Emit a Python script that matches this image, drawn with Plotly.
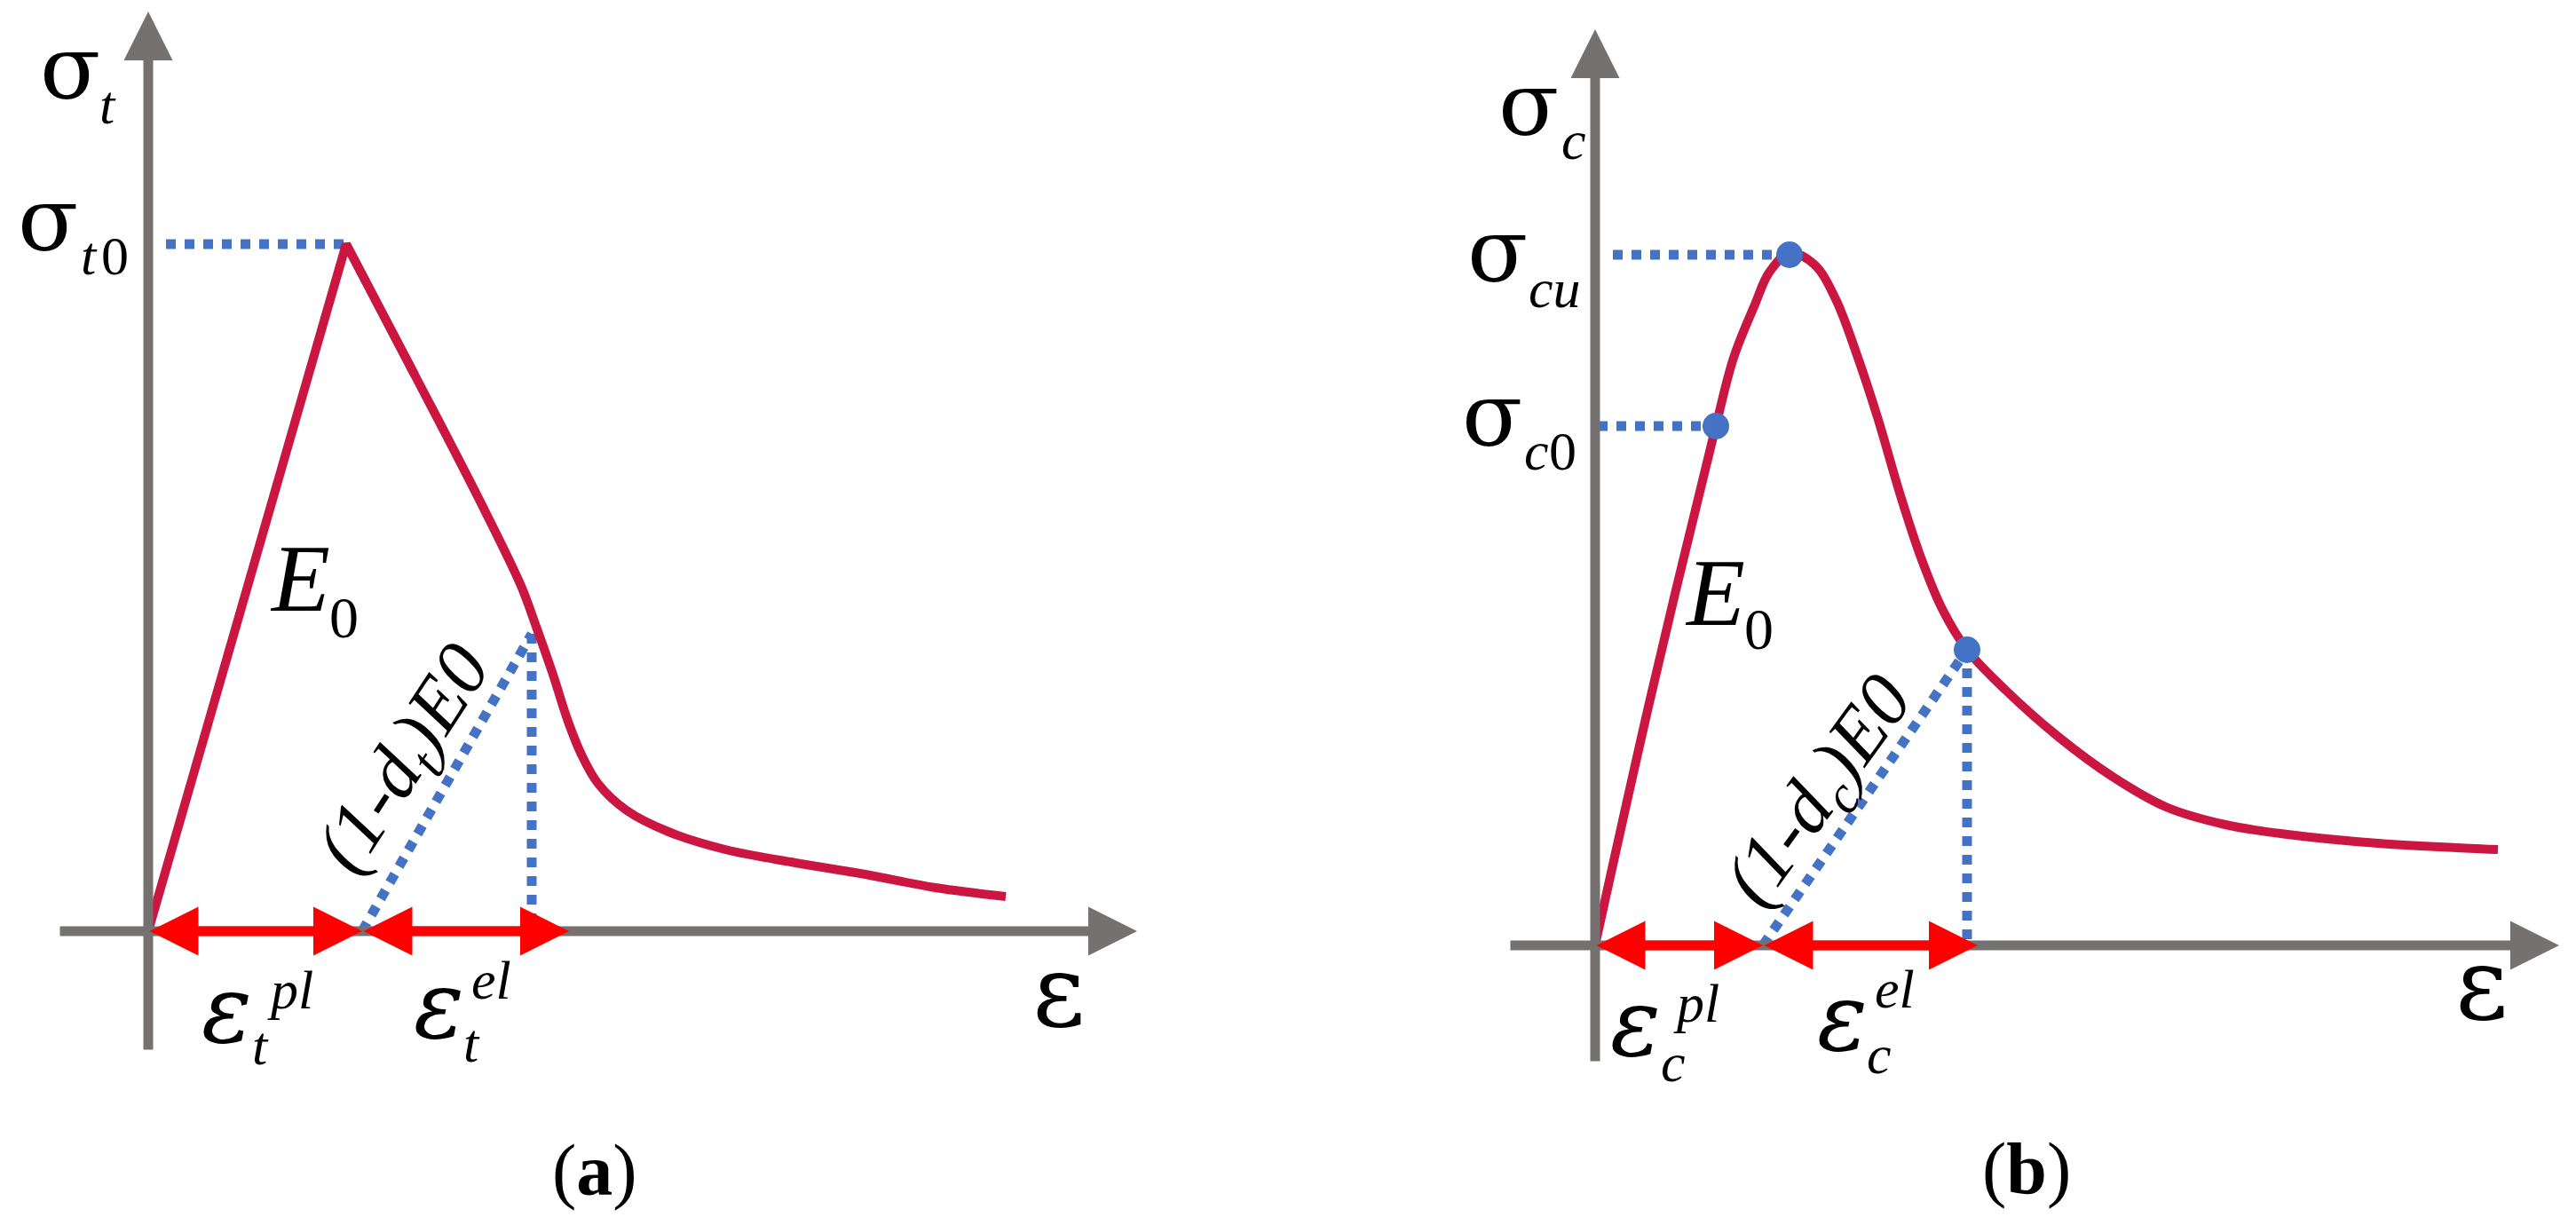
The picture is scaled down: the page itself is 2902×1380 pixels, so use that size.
import plotly.graph_objects as go

W, H = 2902, 1380
SERIF = "Liberation Serif, Times New Roman, serif"
GREEK = "DejaVu Serif, serif"
CURVE = "#CA1641"
AXIS = "#767171"
BLUE = "#4472C4"
ARROW = "#FF0000"

# ---------------- data (arbitrary strain / stress units) ----------------
# (a) tension
strain_t = [0.00, 2.23, 3.00, 3.73, 4.20, 4.36, 4.56, 4.72, 4.88, 5.07, 5.39, 5.86, 6.50, 7.29, 8.08, 8.87, 9.66]
stress_t = [0.00, 7.74, 6.27, 4.86, 3.89, 3.46, 2.89, 2.39, 1.99, 1.66, 1.36, 1.12, 0.92, 0.77, 0.64, 0.49, 0.39]
peak_idx_t = 1
unload_t = (4.32, 3.35)
eps_pl_t = 2.41
eps_el_tip_t = 4.74
axis_x_t = (-1.01, 11.14)
axis_y_t = (-1.35, 10.36)

# (b) compression
strain_c = [0.00, 0.64, 1.36, 1.56, 1.80, 1.96, 2.19, 2.47, 2.71, 2.95, 3.19, 3.43, 3.67, 3.91, 4.19,
            4.63, 5.23, 5.83, 6.43, 7.10, 7.80, 8.82, 10.17]
stress_c = [0.00, 2.86, 5.85, 6.62, 7.22, 7.58, 7.80, 7.67, 7.28, 6.65, 5.92, 5.10, 4.37, 3.79, 3.33,
            2.87, 2.34, 1.90, 1.56, 1.36, 1.25, 1.15, 1.08]
sigma_c0 = (1.36, 5.85)
sigma_cu = (2.19, 7.78)
unload_c = (4.19, 3.33)
eps_pl_c = 1.89
eps_el_tip_c = 4.31
axis_x_c = (-0.97, 10.86)
axis_y_c = (-1.32, 10.32)

fig = go.Figure()

def line(xs, ys, xa, ya, color, width, dash=None, shape="linear"):
    fig.add_trace(go.Scatter(x=xs, y=ys, xaxis=xa, yaxis=ya, mode="lines",
                             line=dict(color=color, width=width, dash=dash, shape=shape),
                             hoverinfo="skip", showlegend=False))

DOT = "11px,10px"

# ---- panel (a) ----
pk = peak_idx_t
line([0.20, strain_t[pk]], [stress_t[pk], stress_t[pk]], "x", "y", BLUE, 11, DOT)
line([eps_pl_t, unload_t[0]], [0.0, unload_t[1]], "x", "y", BLUE, 11, DOT)
line([unload_t[0], unload_t[0]], [unload_t[1], 0.0], "x", "y", BLUE, 11, DOT)
line(strain_t[:pk + 2], stress_t[:pk + 2], "x", "y", CURVE, 10)
line(strain_t[pk:], stress_t[pk:], "x", "y", CURVE, 10, shape="spline")

# ---- panel (b) ----
line([0.20, sigma_cu[0]], [sigma_cu[1], sigma_cu[1]], "x2", "y2", BLUE, 11, DOT)
line([0.03, sigma_c0[0]], [sigma_c0[1], sigma_c0[1]], "x2", "y2", BLUE, 11, DOT)
line([eps_pl_c, unload_c[0]], [0.0, unload_c[1]], "x2", "y2", BLUE, 11, DOT)
line([unload_c[0], unload_c[0]], [unload_c[1], 0.0], "x2", "y2", BLUE, 11, DOT)
line(strain_c, stress_c, "x2", "y2", CURVE, 10, shape="spline")
fig.add_trace(go.Scatter(x=[sigma_c0[0], sigma_cu[0], unload_c[0]],
                         y=[sigma_c0[1], sigma_cu[1], unload_c[1]],
                         xaxis="x2", yaxis="y2", mode="markers",
                         marker=dict(color=BLUE, size=30), hoverinfo="skip", showlegend=False))

ann = []

def arrow(xr, yr, x0, y0, x1, y1, color, both=False):
    d = dict(x=x1, y=y1, ax=x0, ay=y0, xref=xr, yref=yr, axref=xr, ayref=yr,
             text="", showarrow=True, arrowhead=2, arrowsize=1, arrowwidth=11,
             arrowcolor=color, font=dict(size=1), standoff=0, startstandoff=0)
    if both:
        d.update(arrowside="end+start", startarrowhead=2, startarrowsize=1)
    ann.append(d)

# axes
arrow("x", "y", axis_x_t[0], 0, axis_x_t[1], 0, AXIS)
arrow("x", "y", 0, axis_y_t[0], 0, axis_y_t[1], AXIS)
arrow("x2", "y2", axis_x_c[0], 0, axis_x_c[1], 0, AXIS)
arrow("x2", "y2", 0, axis_y_c[0], 0, axis_y_c[1], AXIS)
# strain arrows
arrow("x", "y", 0, 0, eps_pl_t, 0, ARROW, both=True)
arrow("x", "y", eps_pl_t, 0, eps_el_tip_t, 0, ARROW, both=True)
arrow("x2", "y2", 0, 0, eps_pl_c, 0, ARROW, both=True)
arrow("x2", "y2", eps_pl_c, 0, eps_el_tip_c, 0, ARROW, both=True)

def label(text, left, base, size, italic=False, anchor="left", family=SERIF):
    desc = 0.236 if family == GREEK else 0.216
    t = "<i>" + text + "</i>" if italic else text
    ann.append(dict(text=t, xref="paper", yref="paper", x=left / W,
                    y=1 - (base + desc * size) / H, xanchor=anchor, yanchor="bottom",
                    showarrow=False, borderpad=0,
                    font=dict(family=family, size=size, color="black")))

def greek(ch, left, base, size, italic=False):
    label(ch, left, base, size, italic=italic, family=GREEK)

SIG, SUB, EPS = 100, 62, 106
# (a)
greek("σ", 44, 112, SIG)
label("t", 111, 140, SUB, italic=True)
greek("σ", 19, 283, SIG)
label("t", 90, 310, SUB, italic=True)
label("0", 113, 310, SUB)
label("E", 303, 689, 108, italic=True)
label("0", 370, 719, 66)
greek("ε", 226, 1175, EPS, italic=True)
label("t", 283, 1200, SUB, italic=True)
label("pl", 300, 1137, SUB, italic=True)
greek("ε", 465, 1170, EPS, italic=True)
label("t", 521, 1197, SUB, italic=True)
label("el", 530, 1126, SUB, italic=True)
greek("ε", 1162, 1157, 115)
label("(<b>a</b>)", 670, 1347, 82, anchor="center")
ann.append(dict(text="<i>(1-d<sub>t</sub>)E0</i>", xref="paper", yref="paper",
                x=458 / W, y=1 - 857 / H, xanchor="center", yanchor="middle",
                textangle=-57, showarrow=False, borderpad=0,
                font=dict(family=SERIF, size=86, color="black")))
# (b)
greek("σ", 1687, 153, SIG)
label("c", 1758, 180, SUB, italic=True)
greek("σ", 1652, 318, SIG)
label("cu", 1721, 347, SUB, italic=True)
greek("σ", 1646, 503, SIG)
label("c", 1716, 530, SUB, italic=True)
label("0", 1744, 530, SUB)
label("E", 1897, 705, 108, italic=True)
label("0", 1964, 732, 66)
greek("ε", 1813, 1190, EPS, italic=True)
label("c", 1870, 1219, SUB, italic=True)
label("pl", 1884, 1152, SUB, italic=True)
greek("ε", 2046, 1184, EPS, italic=True)
label("c", 2102, 1210, SUB, italic=True)
label("el", 2111, 1136, SUB, italic=True)
greek("ε", 2765, 1149, 115)
label("(<b>b</b>)", 2283, 1345, 82, anchor="center")
ann.append(dict(text="<i>(1-d<sub>c</sub>)E0</i>", xref="paper", yref="paper",
                x=2052 / W, y=1 - 893 / H, xanchor="center", yanchor="middle",
                textangle=-54, showarrow=False, borderpad=0,
                font=dict(family=SERIF, size=86, color="black")))

hidden = dict(visible=False, showgrid=False, zeroline=False, fixedrange=True)
fig.update_layout(
    width=W, height=H, autosize=False,
    margin=dict(l=0, r=0, t=0, b=0, pad=0),
    paper_bgcolor="white", plot_bgcolor="white",
    showlegend=False,
    xaxis=dict(domain=[0, 0.5], range=[-1.67, 12.84], anchor="y", **hidden),
    yaxis=dict(domain=[0, 1], range=[-3.31, 10.49], anchor="x", **hidden),
    xaxis2=dict(domain=[0.5, 1], range=[-3.46, 11.05], anchor="y2", **hidden),
    yaxis2=dict(domain=[0, 1], range=[-3.15, 10.65], anchor="x2", **hidden),
    annotations=ann,
)

fig.write_html("out.html", config={"displayModeBar": False},
               post_script="document.body.style.margin='0';document.body.style.overflow='hidden';")
